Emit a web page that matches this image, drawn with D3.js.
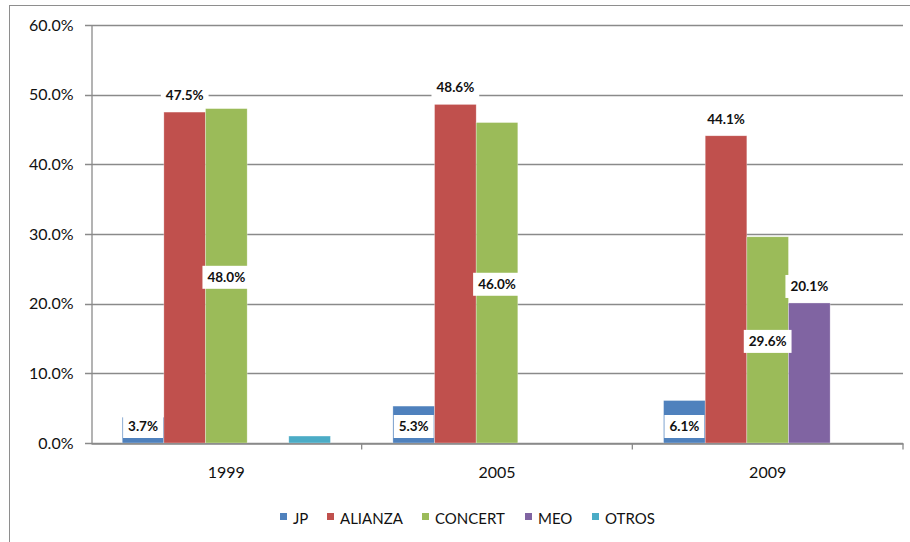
<!DOCTYPE html>
<html>
<head>
<meta charset="utf-8">
<script src="https://cdn.jsdelivr.net/npm/d3@7"></script>
<style>
    body { margin: 0; background: #fff; }
    text { font-family: Lato, "Open Sans", sans-serif; }
</style>
</head>
<body>
<div class="canvas"></div>
<script>
// Chart data
const years = ["1999", "2005", "2009"];
const parties = ["JP", "ALIANZA", "CONCERT", "MEO", "OTROS"];
const colors = ["#4F81BD", "#C0504D", "#9BBB59", "#8064A2", "#4BACC6"];
const jp = [3.7, 5.3, 6.1];
const alianza = [47.5, 48.6, 44.1];
const concert = [48.0, 46.0, 29.6];
const meo = [0, 0, 20.1];
const otros = [1.0, 0, 0];
const yTicks = [0, 10, 20, 30, 40, 50, 60];

// where each series puts its label: base, end (above), center, none
const labelPos = ["base", "end", "center", "end", "none"];

const seriesValues = [jp, alianza, concert, meo, otros];

const width = 910, height = 542;
const margin = { left: 91, right: 7, top: 25, bottom: 99 };

const svg = d3.select(".canvas")
    .append("svg")
    .attr("width", width)
    .attr("height", height);

// outer chart border (only left/top are in the frame)
svg.append("rect")
    .attr("x", 9.5)
    .attr("y", 5.5)
    .attr("width", 920)
    .attr("height", 600)
    .attr("fill", "none")
    .attr("stroke", "#8e8e8e")
    .attr("stroke-width", 1);

const x0 = d3.scaleBand()
    .domain(years)
    .range([margin.left, width - margin.right])
    .padding(0);

const x1 = d3.scaleBand()
    .domain(parties)
    .range([0, x0.bandwidth()])
    .paddingInner(0)
    .paddingOuter(0.75);

const y = d3.scaleLinear()
    .domain([0, 60])
    .range([height - margin.bottom, margin.top]);

// Gridlines
svg.append("g")
    .selectAll("line")
    .data(yTicks)
    .enter().append("line")
    .attr("x1", margin.left - 6)
    .attr("x2", width - margin.right)
    .attr("y1", d => Math.round(y(d)) + 0.5)
    .attr("y2", d => Math.round(y(d)) + 0.5)
    .attr("stroke", "#8a8a8a")
    .attr("stroke-width", 1.3);

// Y axis
const yAxis = svg.append("g")
    .attr("transform", `translate(${margin.left + 0.5},0)`)
    .call(d3.axisLeft(y).tickValues(yTicks).tickSize(0).tickPadding(18)
        .tickFormat(d => d.toFixed(1) + "%"));
yAxis.select(".domain").attr("stroke", "#8a8a8a").attr("stroke-width", 1.3);
yAxis.selectAll("text")
    .attr("font-size", 16)
    .attr("fill", "#111")
    .style("font-family", "Lato, sans-serif");

// Bars
const rows = years.map((yr, i) => ({ year: yr, values: parties.map((p, j) => ({ party: p, idx: j, value: seriesValues[j][i] })) }));

const groups = svg.append("g")
    .selectAll("g")
    .data(rows)
    .enter().append("g")
    .attr("transform", d => `translate(${x0(d.year)},0)`);

groups.selectAll("rect")
    .data(d => d.values.filter(v => v.value > 0))
    .enter().append("rect")
    .attr("x", d => x1(d.party))
    .attr("width", x1.bandwidth())
    .attr("y", d => y(d.value))
    .attr("height", d => y(0) - y(d.value))
    .attr("fill", d => colors[d.idx])
    .attr("stroke", "#ffffff")
    .attr("stroke-opacity", 0.5)
    .attr("stroke-width", 0.6);

// X axis
const xAxis = svg.append("g")
    .attr("transform", `translate(0,${Math.round(y(0)) + 0.5})`)
    .call(d3.axisBottom(x0).tickSize(0).tickPadding(23));
xAxis.select(".domain").attr("stroke", "#8a8a8a").attr("stroke-width", 1.3);
xAxis.selectAll("text")
    .attr("font-size", 16)
    .attr("fill", "#111")
    .style("font-family", "Lato, sans-serif");

// category separator ticks
xAxis.append("g")
    .selectAll("line")
    .data(years)
    .enter().append("line")
    .attr("x1", d => x0(d) + x0.bandwidth())
    .attr("x2", d => x0(d) + x0.bandwidth())
    .attr("y1", 0)
    .attr("y2", 6)
    .attr("stroke", "#8a8a8a")
    .attr("stroke-width", 1.3);

// Data labels
const labelData = [];
rows.forEach(r => {
    r.values.forEach(v => {
        const pos = labelPos[v.idx];
        if (pos === "none" || v.value <= 0) return;
        let cy;
        if (pos === "end") cy = y(v.value) - 17;
        else if (pos === "center") cy = (y(v.value) + y(0)) / 2 + 1;
        else cy = y(0) - 17;
        labelData.push({ cx: x0(r.year) + x1(v.party) + x1.bandwidth() / 2, cy: cy, text: v.value.toFixed(1) + "%" });
    });
});

const labels = svg.append("g")
    .selectAll("g")
    .data(labelData)
    .enter().append("g")
    .attr("transform", d => `translate(${d.cx},${d.cy})`);

labels.append("rect")
    .attr("fill", "#fff");

labels.append("text")
    .attr("text-anchor", "middle")
    .attr("dy", "0.36em")
    .attr("font-size", 13.5)
    .attr("font-weight", "bold")
    .attr("fill", "#111")
    .text(d => d.text);

labels.each(function () {
    const g = d3.select(this);
    const w = g.select("text").node().getComputedTextLength();
    g.select("rect")
        .attr("x", -w / 2 - 5)
        .attr("y", -11)
        .attr("width", w + 10)
        .attr("height", 23);
});

// Legend
const legendX = [280, 327, 422, 525, 592];
const legend = svg.append("g")
    .selectAll("g")
    .data(parties)
    .enter().append("g")
    .attr("transform", (d, i) => `translate(${legendX[i]},513)`);

legend.append("rect")
    .attr("width", 7)
    .attr("height", 7)
    .attr("fill", (d, i) => colors[i]);

legend.append("text")
    .attr("x", 13)
    .attr("y", 11)
    .attr("font-size", 15)
    .attr("fill", "#111")
    .text(d => d);
</script>
</body>
</html>
